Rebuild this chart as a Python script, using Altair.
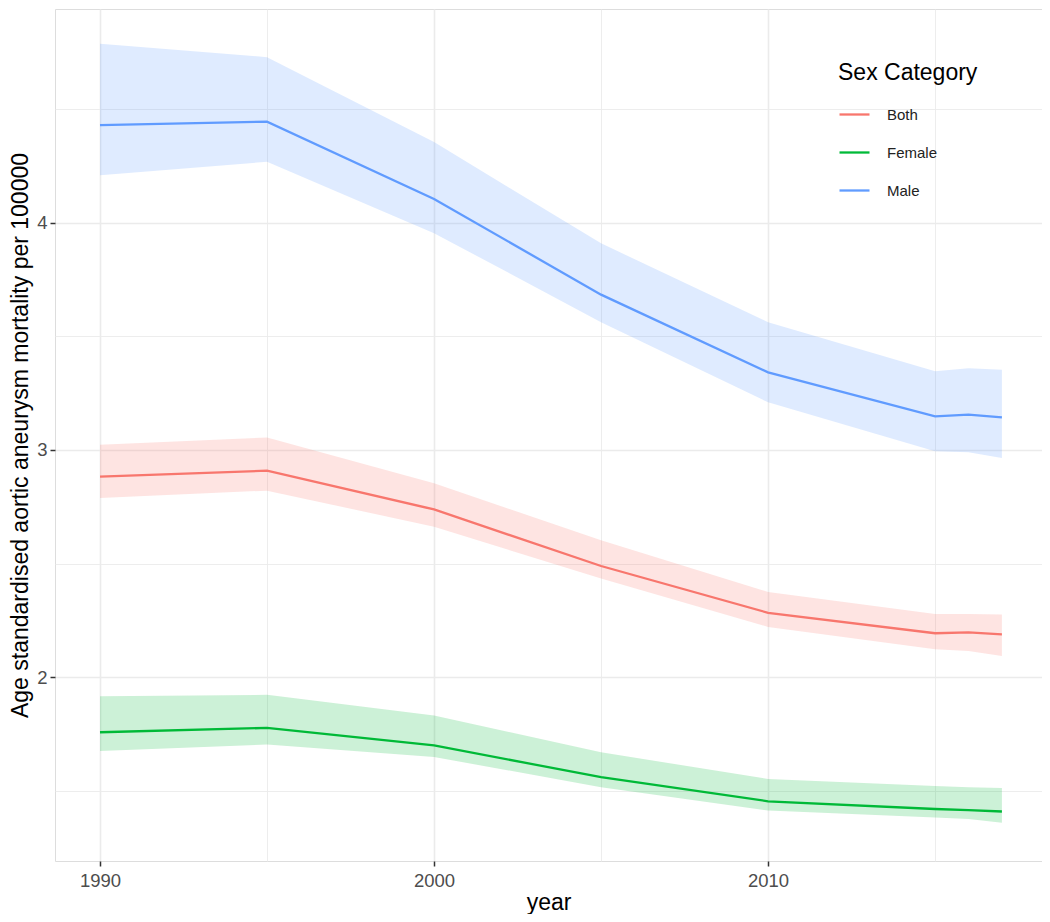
import altair as alt
import pandas as pd

years = [1990, 1995, 2000, 2005, 2010, 2015, 2016, 2017]
sexes = ["Both", "Female", "Male"]
colors = ["#F8766D", "#00BA38", "#619CFF"]

both_mean = [2.883, 2.909, 2.738, 2.489, 2.283, 2.193, 2.197, 2.188]
both_lower = [2.789, 2.821, 2.662, 2.434, 2.221, 2.122, 2.115, 2.093]
both_upper = [3.023, 3.055, 2.853, 2.603, 2.375, 2.278, 2.278, 2.276]

female_mean = [1.757, 1.776, 1.699, 1.559, 1.453, 1.419, 1.414, 1.408]
female_lower = [1.674, 1.703, 1.648, 1.515, 1.412, 1.382, 1.375, 1.358]
female_upper = [1.915, 1.922, 1.831, 1.669, 1.551, 1.520, 1.515, 1.512]

male_mean = [4.431, 4.446, 4.105, 3.684, 3.342, 3.148, 3.156, 3.144]
male_lower = [4.210, 4.269, 3.955, 3.563, 3.210, 2.994, 2.990, 2.965]
male_upper = [4.789, 4.730, 4.356, 3.910, 3.563, 3.347, 3.360, 3.353]

x_tick_values = [1990, 1995, 2000, 2005, 2010, 2015]
y_tick_values = [1.5, 2, 2.5, 3, 3.5, 4, 4.5]

series = {
    "Both": (both_mean, both_lower, both_upper),
    "Female": (female_mean, female_lower, female_upper),
    "Male": (male_mean, male_lower, male_upper),
}
rows = []
for s in sexes:
    m, lo, up = series[s]
    for i, yr in enumerate(years):
        rows.append({"year": yr, "sex": s, "mean": m[i], "lower": lo[i], "upper": up[i]})
df = pd.DataFrame(rows)

FONT = "Liberation Sans"
W, H = 987, 852

xscale = alt.Scale(domain=[1988.653, 2018.2], nice=False, zero=False)
yscale = alt.Scale(domain=[1.19, 4.942], nice=False, zero=False)
cscale = alt.Scale(domain=sexes, range=colors)

xaxis = alt.Axis(
    values=x_tick_values,
    labelExpr="datum.value % 10 === 0 ? '' + datum.value : ''",
    tickOpacity={"condition": {"test": "datum.value % 10 === 0", "value": 1}, "value": 0},
    gridWidth={"condition": {"test": "datum.value % 10 === 0", "value": 1.6}, "value": 0.9},
    gridColor="#ebebeb",
    domain=False,
    tickColor="#333333",
    tickWidth=1.5,
    tickSize=5,
    labelPadding=5,
    labelFont=FONT,
    labelFontSize=18.5,
    labelColor="#4d4d4d",
    labelOverlap=False,
    labelFlush=False,
    title="year",
    titleFont=FONT,
    titleFontSize=23,
    titleFontWeight="normal",
    titleColor="#000000",
    titleY=48,
    titleBaseline="alphabetic",
)

yaxis = alt.Axis(
    values=y_tick_values,
    labelExpr="datum.value % 1 === 0 ? format(datum.value, 'd') : ''",
    tickOpacity={"condition": {"test": "datum.value % 1 === 0", "value": 1}, "value": 0},
    gridWidth={"condition": {"test": "datum.value % 1 === 0", "value": 1.6}, "value": 0.9},
    gridColor="#ebebeb",
    domain=False,
    tickColor="#333333",
    tickWidth=1.5,
    tickSize=5,
    labelPadding=3,
    labelFont=FONT,
    labelFontSize=18.5,
    labelColor="#4d4d4d",
    labelOverlap=False,
    labelFlush=False,
    title="Age standardised aortic aneurysm mortality per 100000",
    titleFont=FONT,
    titleFontSize=23,
    titleFontWeight="normal",
    titleColor="#000000",
    titleAngle=270,
    titleX=-35,
    titleY=H / 2,
    titleAlign="center",
    titleBaseline="middle",
)

legend = alt.Legend(
    title="Sex Category",
    orient="none",
    legendX=783,
    legendY=53,
    padding=0,
    titleFont=FONT,
    titleFontSize=23,
    titleFontWeight="normal",
    titleColor="#000000",
    titlePadding=13,
    labelFont=FONT,
    labelFontSize=15,
    labelColor="#222222",
    labelOffset=16,
    symbolType="stroke",
    symbolSize=900,
    symbolStrokeWidth=2.3,
    symbolOpacity=1,
    rowPadding=13,
)

base = alt.Chart(df).encode(
    x=alt.X("year:Q", scale=xscale, axis=xaxis),
    color=alt.Color("sex:N", scale=cscale, legend=legend),
)

line = base.mark_line(strokeWidth=2.3).encode(
    y=alt.Y("mean:Q", scale=yscale, axis=yaxis),
)

band = base.mark_area(opacity=0.2).encode(
    y=alt.Y("lower:Q", scale=yscale, axis=yaxis),
    y2="upper:Q",
)

chart = (
    alt.layer(line, band)
    .properties(
        width=W,
        height=H,
        autosize=alt.AutoSizeParams(type="none"),
        padding={"left": 47, "top": 1, "right": 0, "bottom": 53},
    )
    .configure_view(stroke="#333333", strokeWidth=1.3)
    .configure(background="white")
)

chart.save("out.html", embed_options={"renderer": "svg", "actions": False})
